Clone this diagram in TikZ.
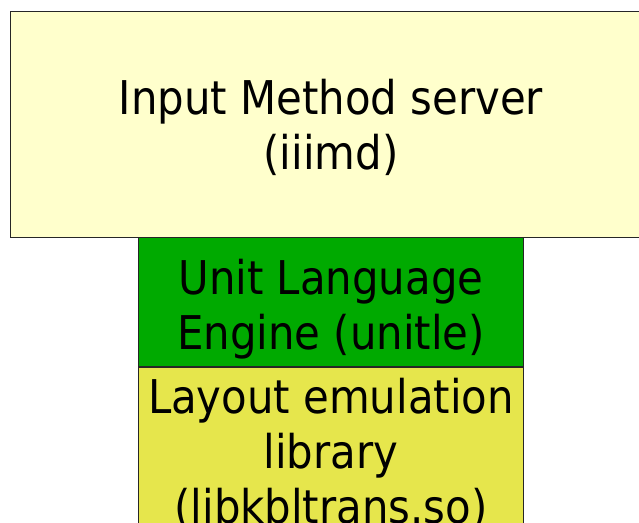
\documentclass[tikz,border=0pt]{standalone}
\usepackage{fontspec}
\setmainfont{DejaVu Sans Condensed}
\usetikzlibrary{positioning}

\definecolor{serverfill}{HTML}{FFFFCC}
\definecolor{enginefill}{HTML}{00AA00}
\definecolor{emulfill}{HTML}{E6E64C}

% text height/depth are measured from the last baseline of each box
\tikzset{
	layer/.style={draw=black!85, line width=0.8pt, align=center, inner sep=0pt,
		font=\fontsize{46.5}{55}\selectfont},
	server/.style={layer, fill=serverfill, minimum width=642pt,
		text height=158.3pt, text depth=67.7pt},
	engine/.style={layer, fill=enginefill, minimum width=385pt,
		text height=111.3pt, text depth=17.7pt},
	emul/.style={layer, fill=emulfill, minimum width=385pt,
		text height=155.7pt, text depth=20pt},
}

\begin{document}
\begin{tikzpicture}[x=1pt, y=-1pt]
	\useasboundingbox [clip] (0,0) rectangle (639,522);
	% stack of layers, top to bottom
	\node [server] (iiimd) at (331,124) {Input Method server\\(iiimd)};
	\node [engine, below=0pt of iiimd] (unitle) {Unit Language\\Engine (unitle)};
	\node [emul, below=0pt of unitle] (libkbl) {Layout emulation\\library\\(libkbltrans.so)};
\end{tikzpicture}
\end{document}
